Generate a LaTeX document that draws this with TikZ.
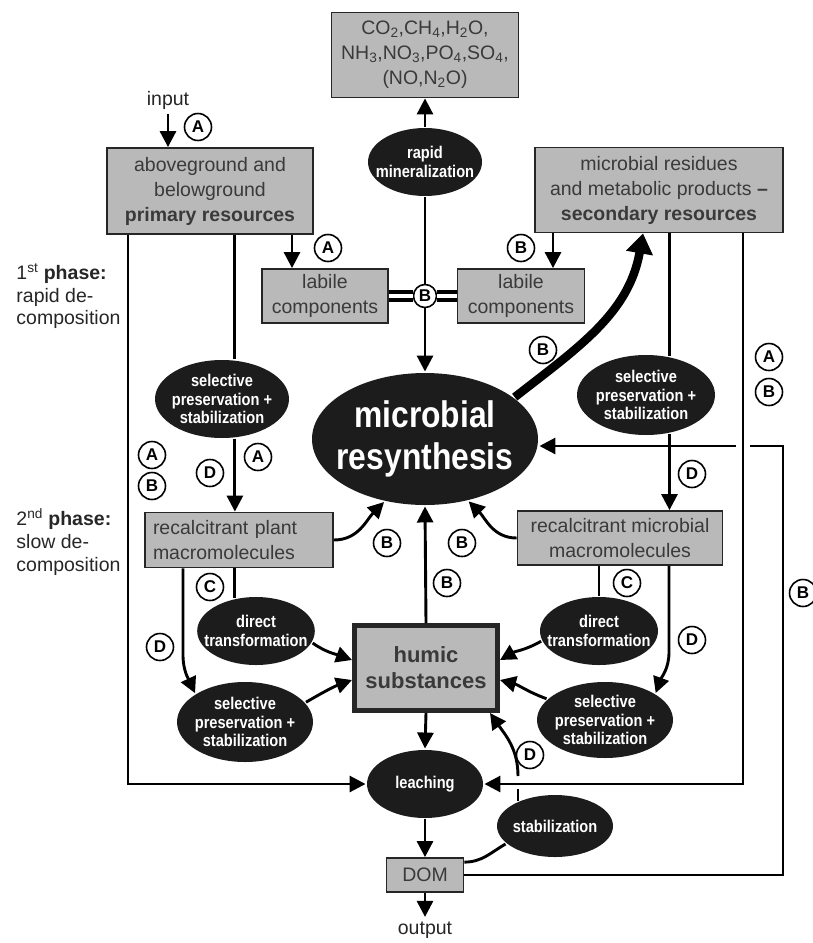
\documentclass[tikz,border=0pt]{standalone}
\usepackage{fontspec}
\setmainfont{Liberation Sans}
\newfontfamily\condfont[FakeStretch=0.86]{Liberation Sans Bold}
\usetikzlibrary{shapes.geometric,arrows.meta}
\definecolor{boxgray}{HTML}{B9B9B9}
\definecolor{inkblack}{HTML}{1C1C1C}
\definecolor{boxtext}{HTML}{3A3A3A}

\begin{document}
\begin{tikzpicture}[x=1pt,y=1pt,line width=2.9pt,
    >={Triangle[length=16pt,width=16pt]},
    font=\fontsize{19.5}{25}\selectfont,
    box/.style={draw=black!85,fill=boxgray,line width=1.8pt,text=boxtext,align=center,inner sep=4pt},
    blob/.style={ellipse,fill=inkblack,text=white,align=center,inner xsep=-10pt,inner ysep=-4pt,
      font=\condfont\fontsize{17}{18.5}\selectfont},
    tag/.style={circle,draw,fill=white,line width=1.6pt,minimum size=27pt,inner sep=0pt,
      font=\fontsize{17}{17}\selectfont\bfseries}]
  \useasboundingbox (0,0) rectangle (812,-943);

  \node[box,minimum width=187pt,minimum height=85pt] (co) at (425,-55)
    {CO\textsubscript{2},CH\textsubscript{4},H\textsubscript{2}O,\\NH\textsubscript{3},NO\textsubscript{3},PO\textsubscript{4},SO\textsubscript{4},\\(NO,N\textsubscript{2}O)};
  \node[blob,minimum width=114pt,minimum height=68pt] (mineral) at (425,-162) {rapid\\mineralization};
  \node[box,minimum width=206pt,minimum height=86pt] (prim) at (210,-191)
    {aboveground and\\belowground\\\textbf{primary resources}};
  \node[box,minimum width=248pt,minimum height=85pt] (sec) at (659,-190)
    {microbial residues\\and metabolic products \textbf{--}\\\textbf{secondary resources}};
  \node[box,minimum width=126pt,minimum height=54pt] (labL) at (325,-296) {labile\\components};
  \node[box,minimum width=127pt,minimum height=54pt] (labR) at (521,-296) {labile\\components};
  \node[tag,minimum size=23pt] (jn) at (425,-296) {B};
  \node[blob,minimum width=226pt,minimum height=132pt,font=\condfont\fontsize{37}{42}\selectfont]
    (res) at (425,-439) {microbial\\resynthesis};
  \node[blob,minimum width=134pt,minimum height=78pt] (sel1) at (222,-399) {selective\\preservation +\\stabilization};
  \node[blob,minimum width=138pt,minimum height=80pt] (sel2) at (646,-395) {selective\\preservation +\\stabilization};
  \node[box,minimum width=188pt,minimum height=55pt,text width=172pt,align=left] (plant) at (239,-540)
    {recalcitrant plant\\macromolecules};
  \node[box,minimum width=205pt,minimum height=54pt] (mic) at (620,-538) {recalcitrant microbial\\macromolecules};
  \node[blob,minimum width=116pt,minimum height=68pt] (dir1) at (256,-631) {direct\\transformation};
  \node[blob,minimum width=118pt,minimum height=68pt] (dir2) at (599,-631) {direct\\transformation};
  \node[box,line width=5pt,minimum width=143pt,minimum height=85pt,font=\fontsize{22}{26}\selectfont\bfseries]
    (hum) at (426,-668) {humic\\substances};
  \node[blob,minimum width=136pt,minimum height=80pt] (sel3) at (245,-722) {selective\\preservation +\\stabilization};
  \node[blob,minimum width=136pt,minimum height=76pt] (sel4) at (605,-720) {selective\\preservation +\\stabilization};
  \node[blob,minimum width=116pt,minimum height=68pt] (leach) at (425,-784) {leaching};
  \node[blob,minimum width=116pt,minimum height=62pt] (stab) at (555,-826) {stabilization};
  \node[box,minimum width=77pt,minimum height=34pt] (dom) at (425,-875) {DOM};
  \node[text=black!85] (inputlbl) at (168,-100) {input};
  \node[text=black!85] (outlbl) at (425,-930) {output};
  \node[anchor=north west,align=left,inner sep=0pt,text=black!85,font=\fontsize{19.5}{22.5}\selectfont]
    (phase1) at (15,-262) {1\textsuperscript{st} \textbf{phase:}\\rapid de-\\composition};
  \node[anchor=north west,align=left,inner sep=0pt,text=black!85,font=\fontsize{19.5}{23}\selectfont]
    (phase2) at (15,-507) {2\textsuperscript{nd} \textbf{phase:}\\slow de-\\composition};

  \coordinate (xa) at (128,0);
  \coordinate (xc) at (292,0);
  \coordinate (xe) at (553,0);
  \coordinate (xg) at (743,0);
  \coordinate (xt) at (643,0);
  \coordinate (dbend1) at (183,-655);
  \coordinate (dbend2) at (669,-652);
  \coordinate (s1) at (518,-789);
  \coordinate (s2) at (518,-776);
  \coordinate (fb) at (783,-446);
  \coordinate (gapR) at (750,-446);
  \coordinate (gapL) at (736,-446);

  \draw[->] (inputlbl.south) -- (inputlbl.south |- prim.north);
  \draw[->] (prim.south -| xc) -- (labL.north -| xc);
  \draw[->] (sec.south -| xe) -- (labR.north -| xe);
  \draw[double,double distance=4pt,line width=4pt] (labL.east) -- (jn.west);
  \draw[double,double distance=4pt,line width=4pt] (jn.east) -- (labR.west);
  \draw (jn.north) -- (mineral.south);
  \draw[->] (mineral.north) -- (co.south);
  \draw[->] (jn.south) -- (res.north);
  \draw[line width=8.5pt,-{Triangle[length=20pt,width=26pt]}] (res.25) to[out=38,in=-100] (sec.south -| xt);

  \draw[->] (prim.south -| xa) |- (leach.west);
  \draw[->] (sec.south -| xg) |- (leach.east);
  \draw (prim.south -| sel1.72) -- (sel1.72);
  \draw[->] (sel1.-72) -- (sel1.-72 |- plant.north);
  \draw (sec.south -| sel2.59) -- (sel2.59);
  \draw[->] (sel2.-59) -- (sel2.-59 |- mic.north);
  \draw[->] (plant.east) to[out=0,in=-135] (res.-123);
  \draw[->] (mic.west) to[out=180,in=-45] (res.-55);
  \draw[->] (hum.north) -- (res.south);

  \draw (plant.south -| dir1.123) -- (dir1.123);
  \draw (mic.south -| dir2.north) -- (dir2.north);
  \draw[->] (plant.south -| dbend1) -- (dbend1) to[out=-90,in=115] (sel3.150);
  \draw[->] (mic.south -| dbend2) -- (dbend2) to[out=-90,in=70] (sel4.28);
  \draw[->] (dir1.-12) to[out=-35,in=160] ([yshift=8pt]hum.west);
  \draw[->] (sel3.18) to[out=30,in=200] ([yshift=-12pt]hum.west);
  \draw[->] (dir2.190) to[out=-150,in=30] ([yshift=8pt]hum.east);
  \draw[->] (sel4.160) to[out=160,in=-15] ([yshift=-12pt]hum.east);

  \draw[->] (hum.south) -- (leach.north);
  \draw[->] (leach.south) -- (dom.north);
  \draw[->] (dom.south) -- (outlbl.north);
  \draw ([yshift=-5pt]dom.north east) to[out=0,in=-150] (stab.-160);
  \draw (s1 |- stab.146) -- (s1);
  \draw[->] (s2) to[out=90,in=-55] ([xshift=-10pt]hum.south east);
  \draw (dom.east) -| (fb) -- (gapR);
  \draw[->] (gapL) -- (res.east |- fb);

  \node[tag] (tA1) at (198,-127) {A};
  \node[tag] (tA2) at (328,-248) {A};
  \node[tag] (tB1) at (521,-248) {B};
  \node[tag] (tB2) at (543,-350) {B};
  \node[tag] (tA3) at (769,-357) {A};
  \node[tag] (tB3) at (769,-392) {B};
  \node[tag] (tA4) at (152,-455) {A};
  \node[tag] (tB4) at (152,-486) {B};
  \node[tag] (tD1) at (210,-473) {D};
  \node[tag] (tA5) at (258,-457) {A};
  \node[tag] (tD2) at (692,-474) {D};
  \node[tag] (tB5) at (387,-543) {B};
  \node[tag] (tB6) at (462,-543) {B};
  \node[tag] (tB7) at (447,-583) {B};
  \node[tag] (tC1) at (210,-587) {C};
  \node[tag] (tC2) at (627,-583) {C};
  \node[tag] (tD3) at (160,-647) {D};
  \node[tag] (tD4) at (692,-640) {D};
  \node[tag] (tD5) at (530,-755) {D};
  \node[tag] (tB8) at (803,-593) {B};
\end{tikzpicture}
\end{document}
